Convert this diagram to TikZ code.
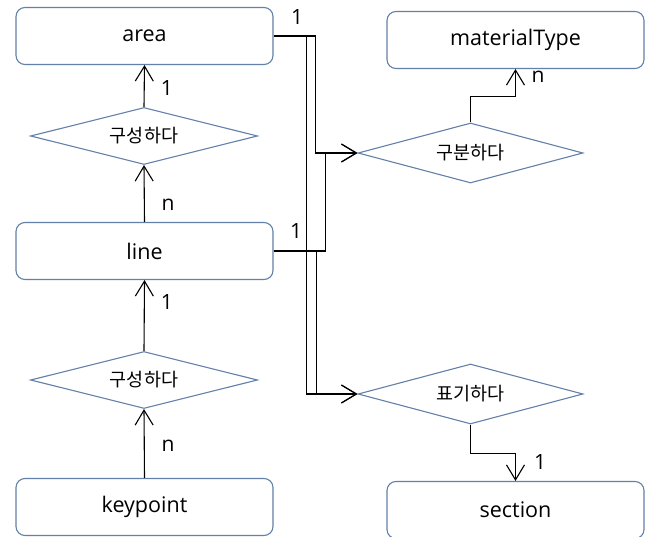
\documentclass[tikz,border=0pt]{standalone}
\usepackage{fontspec}
\setmainfont{Open Sans}
\newfontfamily\kr{Noto Sans CJK KR}
\usetikzlibrary{shapes.geometric,arrows.meta}
\definecolor{boxblue}{RGB}{98,128,168}
\tikzset{entity/.style={draw=boxblue, line width=1.1pt, rounded corners=9pt, minimum width=257pt, minimum height=57pt, inner sep=0pt, font=\fontsize{21.5}{24}\selectfont},
         relation/.style={draw=boxblue, line width=1.1pt, diamond, aspect=4, inner sep=0pt, minimum width=227pt, minimum height=57pt, font=\kr\fontsize{18.5}{21}\selectfont},
         link/.style={black, line width=1.1pt, -{Straight Barb[length=15pt,width=18pt,line width=1.1pt]}},
         card/.style={inner sep=0pt, font=\fontsize{21}{24}\selectfont}}

\begin{document}
\begin{tikzpicture}[x=1pt,y=-1pt]
   \useasboundingbox (0,0) rectangle (650,537);
   % entities
   \node[entity] (area) at (144.5,36) {area};
   \node[entity] (line) at (144.5,251) {line};
   \node[entity] (keypoint) at (144.5,507) {keypoint};
   \node[entity] (materialType) at (515.5,40) {materialType};
   \node[entity] (section) at (515.5,510) {section};
   % relations
   \node[relation] (compose1) at (144,136) {구성하다};
   \node[relation] (compose2) at (144,380) {구성하다};
   \node[relation, minimum width=225pt, minimum height=60pt] (classify) at (470.5,153) {구분하다};
   \node[relation, minimum width=225pt, minimum height=60pt] (mark) at (470.5,394) {표기하다};
   % left column
   \draw[link] (compose1.north) -- (area.south);
   \draw[link] (line.north) -- (compose1.south);
   \draw[link] (compose2.north) -- (line.south);
   \draw[link] (keypoint.north) -- (compose2.south);
   % area/line to the right relations
   \draw[link] (area.east) -- ++(42,0) |- (classify.west);
   \draw[link] (line.east) -- ++(52,0) |- (classify.west);
   \draw[link] (area.east) -- ++(33,0) |- (mark.west);
   \draw[link] (line.east) -- ++(43,0) |- (mark.west);
   \draw[link] (classify.north) -- ++(0,-26) -| (materialType.south);
   \draw[link] (mark.south) -- ++(0,29) -| (section.north);
   % cardinalities
   \node[card] (c1) at (167,88) {1};
   \node[card] (c2) at (168,205) {n};
   \node[card] (c3) at (167,302) {1};
   \node[card] (c4) at (168,446) {n};
   \node[card] (c5) at (297,17) {1};
   \node[card] (c6) at (296,231) {1};
   \node[card] (c7) at (538,77) {n};
   \node[card] (c8) at (540,462) {1};
\end{tikzpicture}
\end{document}
